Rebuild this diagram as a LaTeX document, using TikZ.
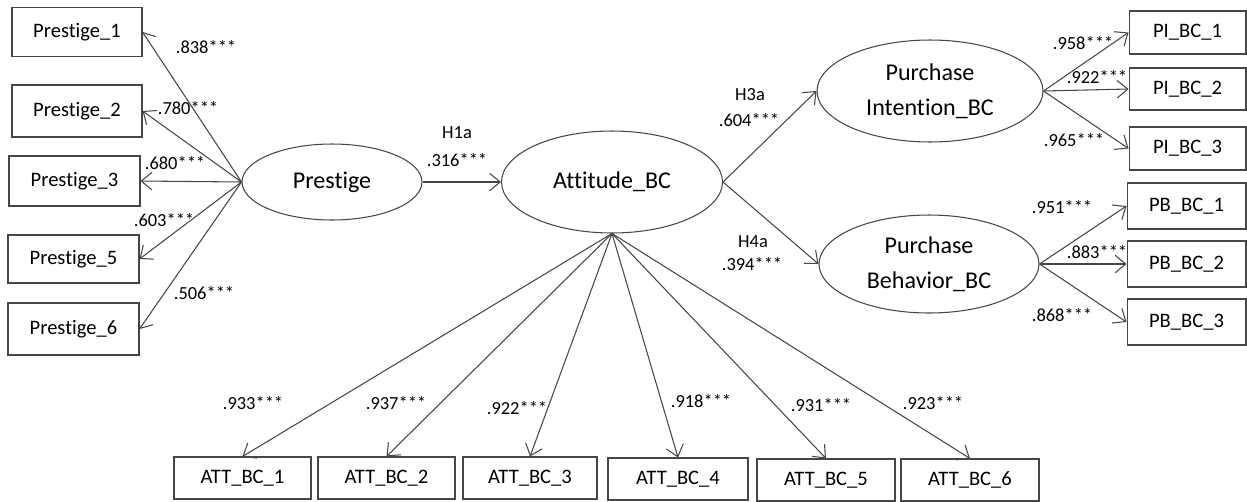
\documentclass[tikz,border=0pt]{standalone}
\usepackage{fontspec}
\setmainfont{Carlito}[Ligatures={NoCommon,NoContextual}]
\usetikzlibrary{shapes.geometric, arrows.meta, positioning}
\definecolor{linegray}{RGB}{70,70,70}

\tikzset{
  indicator/.style={draw=linegray, line width=0.6pt, inner sep=0pt,
    minimum height=0.84cm, font=\fontsize{11.7}{14}\selectfont},
  construct/.style={ellipse, draw=linegray, line width=0.6pt, inner sep=0pt,
    align=center, font=\fontsize{13.7}{19.9}\selectfont},
  loading/.style={draw=linegray, line width=0.6pt,
    -{Straight Barb[length=6pt,width=10pt]}},
  coef/.style={inner sep=0pt, font=\fontsize{10.5}{14.4}\selectfont},
}

\begin{document}
\begin{tikzpicture}[x=0.02cm, y=-0.02cm]
    \useasboundingbox (0,0) rectangle (1247,501);

    % latent constructs
    \node[construct, minimum width=3.6cm, minimum height=1.52cm] (prestige) at (332,182) {Prestige};
    \node[construct, minimum width=4.42cm, minimum height=2.04cm] (attitude) at (612,182) {Attitude\_BC};
    \node[construct, minimum width=4.52cm, minimum height=2.04cm] (intention) at (930,91) {Purchase\\Intention\_BC};
    \node[construct, minimum width=4.4cm, minimum height=1.96cm] (behavior) at (929,264) {Purchase\\Behavior\_BC};

    % prestige items
    \node[indicator, minimum width=2.6cm, minimum height=0.98cm] (pr1) at (77,32) {Prestige\_1};
    \node[indicator, minimum width=2.6cm, minimum height=1.04cm] (pr2) at (77,111) {Prestige\_2};
    \node[indicator, minimum width=2.62cm, minimum height=1cm] (pr3) at (74.5,181) {Prestige\_3};
    \node[indicator, minimum width=2.62cm, minimum height=0.96cm] (pr5) at (73.5,259) {Prestige\_5};
    \node[indicator, minimum width=2.62cm, minimum height=1.04cm] (pr6) at (73.5,329) {Prestige\_6};

    % purchase intention / behavior items
    \node[indicator, minimum width=2.34cm, minimum height=0.86cm] (pi1) at (1187.5,32.5) {PI\_BC\_1};
    \node[indicator, minimum width=2.34cm, minimum height=0.84cm] (pi2) at (1187.5,89) {PI\_BC\_2};
    \node[indicator, minimum width=2.34cm, minimum height=0.86cm] (pi3) at (1187.5,148.5) {PI\_BC\_3};
    \node[indicator, minimum width=2.38cm, minimum height=0.92cm] (pb1) at (1186.5,206) {PB\_BC\_1};
    \node[indicator, minimum width=2.38cm, minimum height=0.92cm] (pb2) at (1186.5,264) {PB\_BC\_2};
    \node[indicator, minimum width=2.38cm, minimum height=0.92cm] (pb3) at (1186.5,322) {PB\_BC\_3};

    % attitude items
    \node[indicator, minimum width=2.74cm] (att1) at (242.5,478) {ATT\_BC\_1};
    \node[indicator, minimum width=2.74cm] (att2) at (386.5,478) {ATT\_BC\_2};
    \node[indicator, minimum width=2.68cm] (att3) at (530,478) {ATT\_BC\_3};
    \node[indicator, minimum width=2.8cm] (att4) at (678,479) {ATT\_BC\_4};
    \node[indicator, minimum width=2.76cm] (att5) at (826,480) {ATT\_BC\_5};
    \node[indicator, minimum width=2.76cm] (att6) at (970,480) {ATT\_BC\_6};

    % structural paths
    \draw[loading] (prestige.east) -- (attitude.west);
    \draw[loading] (attitude.east) -- (intention.west);
    \draw[loading] (attitude.east) -- (behavior.west);

    % measurement paths
    \foreach \item in {pr1,pr2,pr3,pr5,pr6}
        \draw[loading] (prestige.west) -- (\item.east);
    \foreach \item in {pi1,pi2,pi3}
        \draw[loading] (intention.east) -- (\item.west);
    \foreach \item in {pb1,pb2,pb3}
        \draw[loading] (behavior.east) -- (\item.west);
    \foreach \item in {att1,att2,att3,att4,att5,att6}
        \draw[loading] (attitude.south) -- (\item.north);

    % path labels
    \node[coef] (h1a) at (457,133) {H1a};
    \node[coef] (b1a) at (457,160) {.316***};
    \node[coef] (h3a) at (750,95) {H3a};
    \node[coef] (b3a) at (749,120) {.604***};
    \node[coef] (h4a) at (753,242) {H4a};
    \node[coef] (b4a) at (752,264) {.394***};

    % loadings
    \node[coef] (lpr1) at (206,47) {.838***};
    \node[coef] (lpr2) at (188,108) {.780***};
    \node[coef] (lpr3) at (175,163) {.680***};
    \node[coef] (lpr5) at (164,220) {.603***};
    \node[coef] (lpr6) at (204,293) {.506***};
    \node[coef] (lpi1) at (1083,43) {.958***};
    \node[coef] (lpi2) at (1097,77) {.922***};
    \node[coef] (lpi3) at (1074,140) {.965***};
    \node[coef] (lpb1) at (1062,207) {.951***};
    \node[coef] (lpb2) at (1097,252) {.883***};
    \node[coef] (lpb3) at (1062,315) {.868***};
    \node[coef] (latt1) at (253,403) {.933***};
    \node[coef] (latt2) at (396,403) {.937***};
    \node[coef] (latt3) at (517,408) {.922***};
    \node[coef] (latt4) at (701,401) {.918***};
    \node[coef] (latt5) at (821,405) {.931***};
    \node[coef] (latt6) at (933,403) {.923***};
\end{tikzpicture}
\end{document}
